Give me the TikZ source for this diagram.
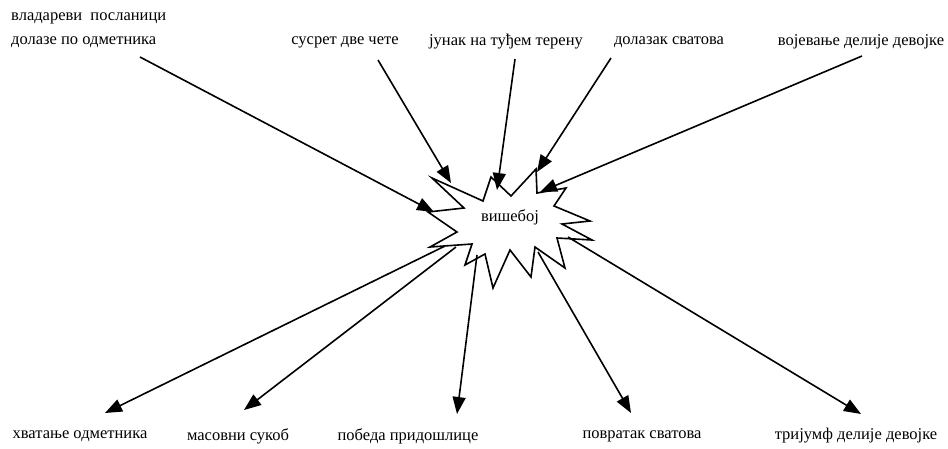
\documentclass[tikz,border=0pt]{standalone}
\usepackage{fontspec}
\setmainfont{Liberation Serif}
\usetikzlibrary{arrows.meta}
\tikzset{
  lbl/.style={inner sep=0pt, font=\fontsize{16.5}{24}\selectfont, align=left},
  arr/.style={line width=1.6pt, -{Triangle[length=17pt,width=13pt]}},
  starline/.style={line width=1.6pt, line join=miter, fill=white},
}
\begin{document}
\begin{tikzpicture}[x=1pt,y=-1pt]
\useasboundingbox (0,0) rectangle (948,448);
% star
\draw[starline] (428,212) -- (464,208) -- (432,178) -- (483,201) -- (491,177) -- (511,196)
  -- (536,169) -- (537,193) -- (566,188) -- (554,206) -- (590,221) -- (562,224)
  -- (592,240) -- (557,238) -- (565,268) -- (535,247) -- (531,277) -- (510,250)
  -- (493,288) -- (485,254) -- (465,265) -- (472,244) -- (430,247) -- (457,232) -- cycle;
\node[lbl] (center) at (510,217) {вишебој};
% top labels
\node[lbl, anchor=west] (t1) at (11,30) {владареви\ \ посланици\\долазе по одметника};
\node[lbl] (t2) at (345,42) {сусрет две чете};
\node[lbl] (t3) at (506,42) {јунак на туђем терену};
\node[lbl] (t4) at (669,42) {долазак сватова};
\node[lbl] (t5) at (861,42) {војевање делије девојке};
% bottom labels
\node[lbl] (b1) at (80,436) {хватање одметника};
\node[lbl] (b2) at (238,436) {масовни сукоб};
\node[lbl] (b3) at (408,436) {победа придошлице};
\node[lbl] (b4) at (642,436) {повратак сватова};
\node[lbl] (b5) at (856,436) {тријумф делије девојке};
% connector ends
\coordinate (s1) at (140,57);
\coordinate (e1) at (434,212);
\coordinate (s2) at (378,60);
\coordinate (e2) at (451,183);
\coordinate (s3) at (515,59);
\coordinate (e3) at (497,190);
\coordinate (s4) at (611,58);
\coordinate (e4) at (537,172);
\coordinate (s5) at (862,56);
\coordinate (e5) at (540,192);
\coordinate (o1) at (445,246);
\coordinate (f1) at (105,413);
\coordinate (o2) at (456,247);
\coordinate (f2) at (244,410);
\coordinate (o3) at (477,255);
\coordinate (f3) at (457,414);
\coordinate (o4) at (538,252);
\coordinate (f4) at (631,413);
\coordinate (o5) at (568,237);
\coordinate (f5) at (861,414);
\draw[arr] (s1) -- (e1);
\draw[arr] (s2) -- (e2);
\draw[arr] (s3) -- (e3);
\draw[arr] (s4) -- (e4);
\draw[arr] (s5) -- (e5);
\draw[arr] (o1) -- (f1);
\draw[arr] (o2) -- (f2);
\draw[arr] (o3) -- (f3);
\draw[arr] (o4) -- (f4);
\draw[arr] (o5) -- (f5);
\end{tikzpicture}
\end{document}
